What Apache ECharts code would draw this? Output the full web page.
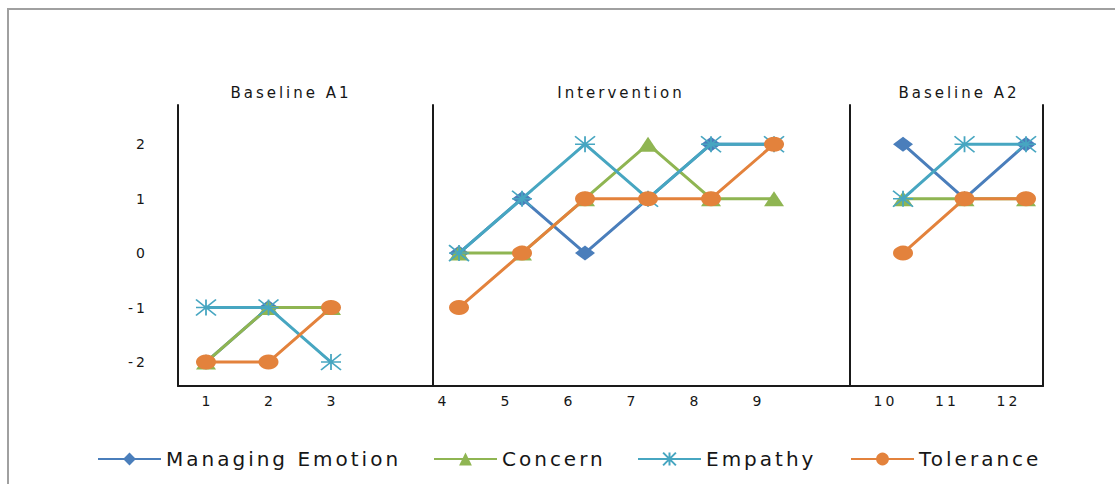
<!DOCTYPE html>
<html>
<head>
<meta charset="utf-8">
<script src="https://cdn.jsdelivr.net/npm/echarts@6/dist/echarts.min.js"></script>
<style>
html,body{margin:0;padding:0;background:#fff;}
#chart{width:1115px;height:484px;}
#chart text{letter-spacing:3px;}
</style>
</head>
<body>
<div id="chart"></div>
<script>
// ---- data ----
const phases = ['Baseline A1', 'Intervention', 'Baseline A2'];
const phaseSessions = [[1, 2, 3], [4, 5, 6, 7, 8, 9], [10, 11, 12]];
const yTicks = [-2, -1, 0, 1, 2];
const traits = ['Managing Emotion', 'Concern', 'Empathy', 'Tolerance'];
const managingEmotion = [-2, -1, -1, 0, 1, 0, 1, 2, 2, 2, 1, 2];
const concern         = [-2, -1, -1, 0, 0, 1, 2, 1, 1, 1, 1, 1];
const empathy         = [-1, -1, -2, 0, 1, 2, 1, 2, 2, 1, 2, 2];
const tolerance       = [-2, -2, -1, -1, 0, 1, 1, 1, 2, 0, 1, 1];

// ---- styling ----
const values = [managingEmotion, concern, empathy, tolerance];
const colors = ['#4a7ebb', '#8fb552', '#47a6c1', '#e3823c'];
const starPath = 'path://M0,-10L0,10M-10,-10L10,10M-10,10L10,-10M-10,0L10,0';
const symbols = ['diamond', 'triangle', starPath, 'circle'];
const symbolSizes = [[20, 15], [20, 15], [20, 16], [20, 15]];
const FONT = 'DejaVu Sans';
const TXT = '#161616';

const grids = [
  {left: 178, width: 255, top: 105, height: 281},
  {left: 433, width: 417, top: 105, height: 281},
  {left: 850, width: 193, top: 105, height: 281}
];
const xRanges = [[0.552, 4.632], [3.587, 10.206], [9.138, 12.276]];
const labelShift = [0, 34, 38];
const axisLineStyle = {color: '#1a1a1a', width: 2};

const xAxes = grids.map((g, i) => ({
  type: 'value', gridIndex: i, min: xRanges[i][0], max: xRanges[i][1],
  axisLine: {show: true, onZero: false, lineStyle: axisLineStyle},
  axisTick: {show: false}, splitLine: {show: false},
  axisLabel: {
    customValues: phaseSessions[i], margin: 8, fontSize: 14, fontFamily: FONT, color: TXT,
    padding: [0, labelShift[i] - 3, 0, 0],
    formatter: v => String(Math.round(v))
  }
}));

const yAxes = grids.map((g, i) => ({
  type: 'value', gridIndex: i, min: -2.44, max: 2.72,
  axisLine: {show: true, onZero: false, lineStyle: axisLineStyle},
  axisTick: {show: false}, splitLine: {show: false},
  axisLabel: i === 0 ? {
    customValues: yTicks, margin: 30, fontSize: 14, fontFamily: FONT, color: TXT,
    formatter: v => String(Math.round(v))
  } : {show: false}
}));
// right border of the last panel
yAxes.push({
  type: 'value', gridIndex: 2, position: 'right', min: -2.44, max: 2.72,
  axisLine: {show: true, onZero: false, lineStyle: axisLineStyle},
  axisTick: {show: false}, splitLine: {show: false}, axisLabel: {show: false}
});

const series = [];
traits.forEach((name, t) => {
  phaseSessions.forEach((sess, p) => {
    series.push({
      name, type: 'line', xAxisIndex: p, yAxisIndex: p,
      data: sess.map(s => [s, values[t][s - 1]]),
      symbol: symbols[t], symbolSize: symbolSizes[t],
      lineStyle: {color: colors[t], width: 3},
      itemStyle: t === 2
        ? {color: colors[t], borderColor: colors[t], borderWidth: 1.6}
        : {color: colors[t], borderWidth: 0},
      emphasis: {disabled: true},
      z: 2 + t
    });
  });
});

const legendLefts = [97, 433, 637, 850];
const legends = traits.map((name, i) => ({
  data: [name], left: legendLefts[i], top: 449, padding: 0,
  itemWidth: 63, itemHeight: 16, itemGap: 0,
  selectedMode: false,
  textStyle: {fontSize: 20, fontFamily: FONT, color: TXT}
}));

const titleX = [291, 621, 959];
const graphics = [
  {type: 'rect', shape: {x: 8, y: 9, width: 1200, height: 600},
   style: {fill: 'none', stroke: '#a0a0a0', lineWidth: 2}, silent: true}
].concat(phases.map((p, i) => ({
  type: 'text', x: titleX[i], y: 93,
  style: {text: p, fontSize: 15, fontFamily: FONT, fill: TXT, align: 'center', verticalAlign: 'middle'}
})));

const chart = echarts.init(document.getElementById('chart'), null, {renderer: 'svg'});
chart.setOption({
  backgroundColor: '#fff',
  animation: false,
  grid: grids,
  xAxis: xAxes,
  yAxis: yAxes,
  legend: legends,
  series,
  graphic: graphics
});
</script>
</body>
</html>
